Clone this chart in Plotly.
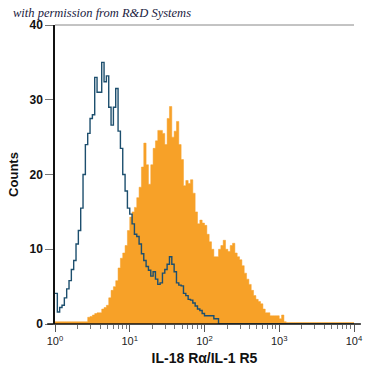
import numpy as np
import plotly.graph_objects as go

# 128 log-spaced channels spanning 10^0 .. 10^4 (32 per decade)
n_bins = 128
decades = 4

# isotype control (blue outline), counts per channel
control_counts = [
    4.1, 1.6, 2.2, 2.5, 3.5, 4.7, 5.8, 7.3, 8.5, 10.7,
    12.5, 15.5, 20.0, 24.0, 25.5, 27.5, 28.0, 33.0, 31.0, 31.0,
    35.0, 32.4, 33.2, 29.0, 26.6, 29.0, 31.5, 25.8, 23.5, 20.0,
    17.8, 15.5, 14.7, 13.4, 12.0, 11.7, 10.7, 9.4, 8.5, 7.7,
    7.2, 6.4, 7.0, 6.0, 5.3, 5.5, 6.8, 7.3, 8.0, 9.0,
    8.0, 7.0, 5.5, 5.2, 5.1, 4.1, 3.8, 3.3, 3.2, 2.8,
    2.4, 2.0, 1.8, 1.4, 1.1, 1.1, 1.1, 1.1, 0.7, 0.7,
] + [0.0] * 58

# IL-18 Ra/IL-1 R5 stained cells (orange filled)
stained_counts = [0.3] * 14 + [
    0.9, 1.0, 1.2, 1.4, 1.5, 1.5, 2.0, 2.2, 2.5, 3.5,
    4.5, 5.0, 5.8, 7.5, 8.8, 9.5, 10.5, 12.5, 14.3, 15.0,
    15.6, 16.9, 18.3, 21.0, 24.2, 21.3, 18.7, 21.3, 23.5, 24.5,
    25.9, 25.9, 25.5, 24.0, 27.5, 29.1, 25.0, 25.8, 27.1, 24.0,
    22.0, 18.5, 19.2, 18.8, 19.3, 17.5, 15.0, 13.4, 13.9, 13.5,
    13.2, 12.0, 11.0, 10.0, 9.0, 9.0, 10.0, 10.5, 11.2, 10.0,
    9.7, 10.5, 10.8, 9.5, 9.0, 8.6, 7.8, 6.8, 6.0, 5.3,
    4.5, 3.8, 3.3, 3.0, 2.7, 2.0, 1.5, 1.5, 1.1, 1.1,
    1.1, 1.1, 0.7, 1.2, 0.3,
] + [0.2] * 29

x_tick_vals = [1, 10, 100, 1000, 10000]
x_tick_text = ["10<sup>0</sup>", "10<sup>1</sup>", "10<sup>2</sup>", "10<sup>3</sup>", "10<sup>4</sup>"]
y_tick_vals = [0, 10, 20, 30, 40]

edges = 10 ** (np.arange(n_bins + 1) * decades / n_bins)
minor_vals = [m * 10 ** k for k in range(decades) for m in range(2, 10)]

fig = go.Figure()
fig.add_trace(go.Scatter(
    x=edges, y=stained_counts + [stained_counts[-1]],
    mode="lines", line=dict(shape="hv", color="#F7A128", width=0.5),
    fill="tozeroy", fillcolor="#F7A128", hoverinfo="skip",
))
fig.add_trace(go.Scatter(
    x=edges, y=control_counts + [control_counts[-1]],
    mode="lines", line=dict(shape="hv", color="#1D4F6E", width=1.4),
    hoverinfo="skip",
))

fig.update_layout(
    width=375, height=375,
    margin=dict(l=55, r=14, t=25, b=46.5),
    paper_bgcolor="white", plot_bgcolor="white",
    showlegend=False,
    font=dict(family="Liberation Sans, Arial, sans-serif", color="#111"),
)
fig.update_xaxes(
    type="log", range=[0, decades],
    tickmode="array", tickvals=x_tick_vals, ticktext=x_tick_text,
    ticks="outside", ticklen=7, tickcolor="#555", tickwidth=1,
    tickfont=dict(size=11, color="#222"),
    minor=dict(tickvals=minor_vals, ticks="outside", ticklen=4, tickcolor="#777", tickwidth=1),
    showgrid=False, zeroline=False, showline=False,
    title=dict(text="IL-18 Rα/IL-1 R5", font=dict(size=14, weight="bold", color="#111"), standoff=6),
)
fig.update_yaxes(
    range=[0, 40],
    tickmode="array", tickvals=y_tick_vals,
    ticks="outside", ticklen=8, tickcolor="#777", tickwidth=1,
    tickfont=dict(size=12, weight="bold", color="#111"),
    showgrid=False, zeroline=False,
    showline=True, linecolor="#111", linewidth=1.5,
    title=dict(text="Counts", font=dict(size=13, weight="bold", color="#111"), standoff=8),
)
# baseline axis line (extends slightly past the plot) and grey top border
fig.add_shape(type="line", xref="paper", yref="paper", x0=-0.026, x1=1.023, y0=0, y1=0,
              line=dict(color="#111", width=1.5))
fig.add_shape(type="line", xref="paper", yref="paper", x0=0, x1=1, y0=1, y1=1,
              line=dict(color="#888", width=1))
fig.add_annotation(
    text="with permission from R&amp;D Systems", xref="paper", yref="paper",
    x=-0.148, y=1.0, xanchor="left", yanchor="bottom", yshift=3, showarrow=False,
    font=dict(family="Liberation Serif, serif", size=12.5, style="italic", color="#1a1a40"),
)

fig.write_html(
    "out.html",
    config={"displayModeBar": False},
    post_script="document.body.style.margin='0';document.body.style.overflow='hidden';",
)
